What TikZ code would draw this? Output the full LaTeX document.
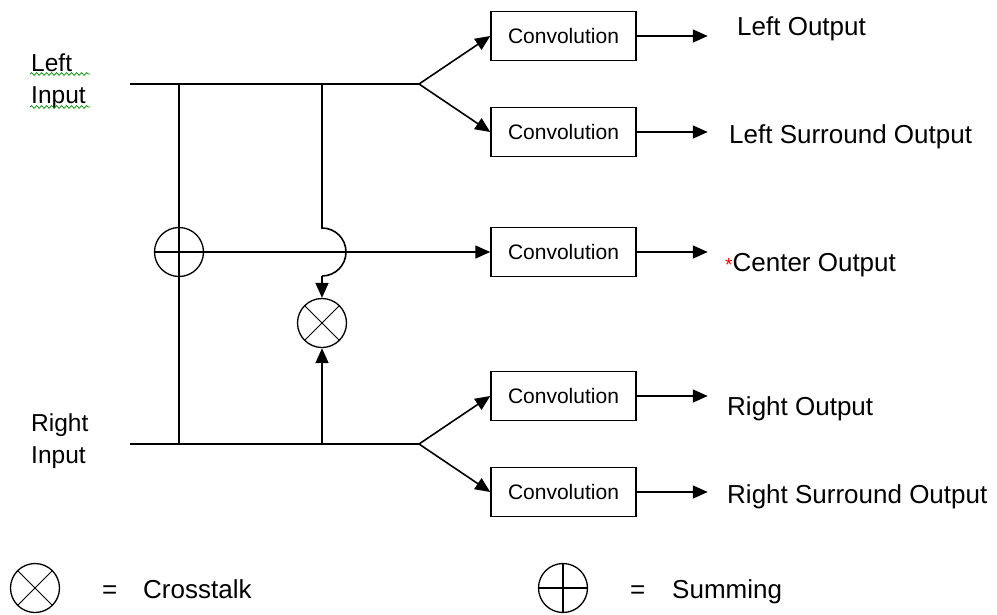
\documentclass[tikz,border=0pt]{standalone}
\usepackage{fontspec}
\setmainfont{Liberation Sans}
\usetikzlibrary{arrows.meta,decorations.pathmorphing}
\tikzset{
  wire/.style={line width=1.6pt},
  flow/.style={wire,-{Triangle[length=15pt,width=13pt]}},
  conv/.style={draw,line width=1.5pt,minimum width=145pt,minimum height=49pt,inner sep=0pt,font=\fontsize{21}{25}\selectfont},
  outlbl/.style={inner sep=0pt,anchor=base west,font=\fontsize{26}{30}\selectfont},
  inlbl/.style={inner sep=0pt,anchor=west,align=left,font=\fontsize{24.5}{32}\selectfont},
  sumnode/.style={circle,draw,line width=1.3pt,minimum size=49pt,inner sep=0pt,
    path picture={\draw[line width=1.3pt] (path picture bounding box.north) -- (path picture bounding box.south)
      (path picture bounding box.west) -- (path picture bounding box.east);}},
  mulnode/.style={circle,draw,line width=1.3pt,minimum size=49pt,inner sep=0pt,
    path picture={\draw[line width=1pt] (path picture bounding box.north west) -- (path picture bounding box.south east)
      (path picture bounding box.north east) -- (path picture bounding box.south west);}},
  squiggle/.style={draw=green!55!black,line width=0.7pt,decorate,decoration={snake,amplitude=1.4pt,segment length=5pt}}
}

\begin{document}
\begin{tikzpicture}[x=1pt,y=-1pt]
  \useasboundingbox (0,0) rectangle (997,614);

  \node[inlbl] (LIn) at (31,81) {Left\\Input};
  \node[inlbl] (RIn) at (31,441) {Right\\Input};
  \draw[squiggle] (30,74) -- (90,74);
  \draw[squiggle] (30,107) -- (90,107);

  \foreach \i/\y in {1/36,2/132,3/252,4/396,5/492}
    \node[conv] (C\i) at (563.5,\y) {Convolution};

  \node[sumnode] (S) at (179,252) {};
  \node[mulnode] (X) at (322,323) {};

  \coordinate (L0) at (130,84);
  \coordinate (R0) at (130,444);
  \coordinate (F1) at (419,84);
  \coordinate (F2) at (419,444);
  \coordinate (J1) at (179,84);
  \coordinate (J2) at (322,84);
  \coordinate (J3) at (179,444);
  \coordinate (J4) at (322,444);
  \coordinate (H1) at (322,228);
  \coordinate (H2) at (322,276);

  \draw[wire] (L0) -- (F1);
  \draw[wire] (R0) -- (F2);
  \draw[flow] (F1) -- (C1.west);
  \draw[flow] (F1) -- (C2.west);
  \draw[flow] (F2) -- (C4.west);
  \draw[flow] (F2) -- (C5.west);
  \draw[wire] (J1) -- (J3);
  \draw[flow] (S.west) -- (C3.west);
  \draw[wire] (J2) -- (H1) arc[start angle=90,end angle=-90,radius=24pt];
  \draw[flow] (H2) -- (X.north);
  \draw[flow] (J4) -- (X.south);

  \foreach \i in {1,...,5}
    \draw[flow] (C\i.east) -- ++(71,0);

  \node[outlbl] (O1) at (737,35) {Left Output};
  \node[outlbl] (O2) at (729,143) {Left Surround Output};
  \node[outlbl] (O3) at (725,271) {{\color{red}\fontsize{19}{19}\selectfont *}Center Output};
  \node[outlbl] (O4) at (727,415) {Right Output};
  \node[outlbl] (O5) at (727,503) {Right Surround Output};

  \node[mulnode] (KX) at (35,588) {};
  \node[outlbl] (EqX) at (102,598) {=};
  \node[outlbl] (TX) at (143,598) {Crosstalk};
  \node[sumnode] (KS) at (563,588) {};
  \node[outlbl] (EqS) at (630,598) {=};
  \node[outlbl] (TS) at (672,598) {Summing};
\end{tikzpicture}
\end{document}
